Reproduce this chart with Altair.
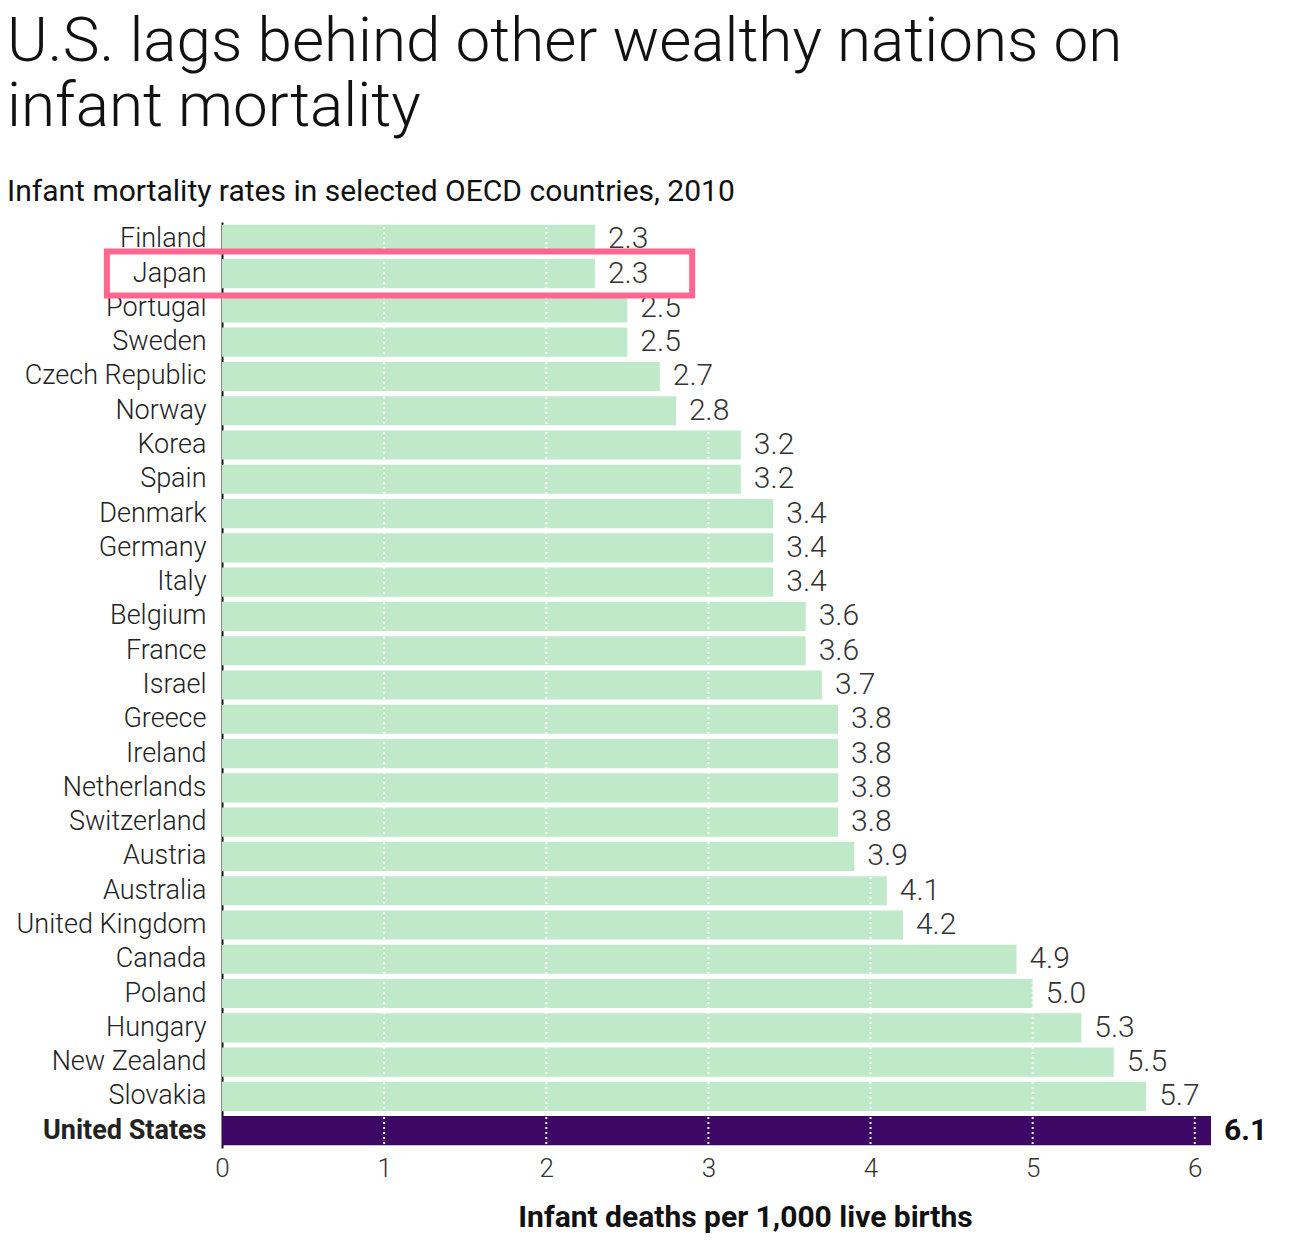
import altair as alt
import pandas as pd

countries = [
    "Finland", "Japan", "Portugal", "Sweden", "Czech Republic", "Norway",
    "Korea", "Spain", "Denmark", "Germany", "Italy", "Belgium", "France",
    "Israel", "Greece", "Ireland", "Netherlands", "Switzerland", "Austria",
    "Australia", "United Kingdom", "Canada", "Poland", "Hungary",
    "New Zealand", "Slovakia", "United States",
]
rates = [
    2.3, 2.3, 2.5, 2.5, 2.7, 2.8, 3.2, 3.2, 3.4, 3.4, 3.4, 3.6, 3.6,
    3.7, 3.8, 3.8, 3.8, 3.8, 3.9, 4.1, 4.2, 4.9, 5.0, 5.3, 5.5, 5.7, 6.1,
]
grid_ticks = [1, 2, 3, 4, 5, 6]
highlight = "Japan"

df = pd.DataFrame({"country": countries, "rate": rates})
df["us"] = df["country"] == "United States"
df["label"] = df["rate"].map(lambda v: f"{v:.1f}")

FONT = "Roboto"
x_scale = alt.Scale(domain=[0, 6.1], nice=False, zero=True)
y_enc = alt.Y(
    "country:N",
    sort=countries,
    scale=alt.Scale(paddingInner=0.15, paddingOuter=0.08),
    axis=alt.Axis(
        title=None,
        ticks=False,
        grid=False,
        domain=True,
        domainColor="#111111",
        domainWidth=2,
        labelFont=FONT,
        labelFontSize=27,
        labelFontWeight=alt.ExprRef("datum.value == 'United States' ? 'bold' : 300"),
        labelColor="#222222",
        labelPadding=16,
        labelLimit=400,
    ),
)

base = alt.Chart(df)

bars = base.mark_bar(clip=False).encode(
    x=alt.X(
        "rate:Q",
        scale=x_scale,
        axis=alt.Axis(
            values=[0, 1, 2, 3, 4, 5, 6],
            format="d",
            ticks=False,
            domain=False,
            grid=False,
            labelFlush=False,
            labelFont=FONT,
            labelFontSize=26,
            labelFontWeight=300,
            labelColor="#333333",
            labelPadding=7,
            title="Infant deaths per 1,000 live births",
            titleFont=FONT,
            titleFontSize=30,
            titleFontWeight="bold",
            titleColor="#111111",
            titleAnchor="middle",
            titleX=523,
            titleY=54,
        ),
    ),
    y=y_enc,
    color=alt.condition(
        "datum.us", alt.value("#3d0865"), alt.value("#bfe9c9")
    ),
)

# dotted white reference lines drawn over the bars
grid = alt.Chart(pd.DataFrame({"g": grid_ticks})).mark_rule(
    color="white", strokeWidth=2, strokeDash=[2, 3], opacity=0.9
).encode(x=alt.X("g:Q", scale=x_scale))

# value labels: regular ones light, the U.S. one bold
values_other = base.transform_filter("!datum.us").mark_text(
    align="left", baseline="middle", dx=13, font=FONT, fontSize=30,
    fontWeight=300, color="#333333"
).encode(
    x=alt.X("rate:Q", scale=x_scale),
    y=alt.Y("country:N", sort=countries),
    text="label:N",
)
values_us = base.transform_filter("datum.us").mark_text(
    align="left", baseline="middle", dx=13, font=FONT, fontSize=30,
    fontWeight="bold", color="#111111"
).encode(
    x=alt.X("rate:Q", scale=x_scale),
    y=alt.Y("country:N", sort=countries),
    text="label:N",
)

box_df = pd.DataFrame({"country": [highlight], "x0": [-0.71], "x1": [2.90]})
box = alt.Chart(box_df).mark_bar(
    clip=False, size=44, fill="white", fillOpacity=0, stroke="#ff6690", strokeWidth=6
).encode(
    x=alt.X("x0:Q", scale=x_scale),
    x2="x1:Q",
    y=alt.Y("country:N", sort=countries),
)

chart = (
    alt.layer(bars, grid, values_other, values_us, box)
    .properties(
        width=989,
        height=926,
        background="white",
        title=alt.TitleParams(
            text=["U.S. lags behind other wealthy nations on", "infant mortality"],
            subtitle="Infant mortality rates in selected OECD countries, 2010",
            anchor="start",
            frame="bounds",
            dx=-9,
            font=FONT,
            fontSize=62,
            fontWeight=300,
            lineHeight=65,
            color="#111111",
            subtitleFont=FONT,
            subtitleFontSize=30,
            subtitleFontWeight="normal",
            subtitleColor="#111111",
            subtitlePadding=38,
            offset=13,
        ),
        padding={"left": 7, "top": 11, "right": 10, "bottom": 10},
    )
    .configure_view(strokeWidth=0)
    .configure_axis(grid=False)
)

chart.save("out.html", embed_options={"renderer": "svg", "actions": False})
